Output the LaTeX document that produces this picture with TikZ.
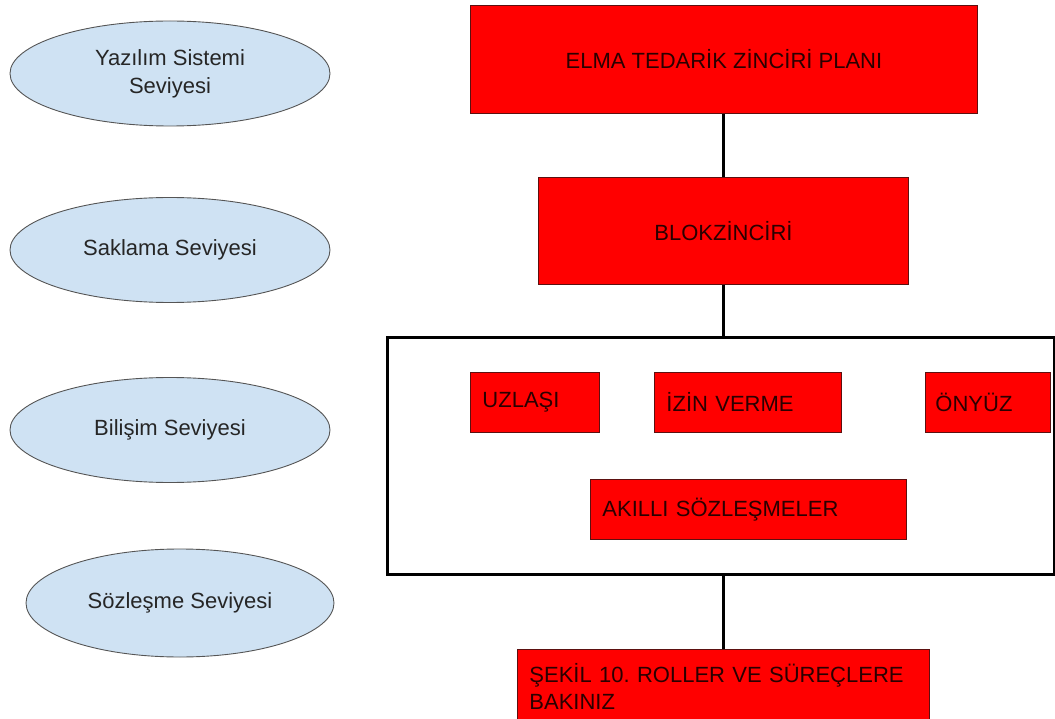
\documentclass[tikz,border=0pt]{standalone}
\usepackage{fontspec}
\setmainfont{Liberation Sans}
\usetikzlibrary{shapes.geometric}
\definecolor{levelfill}{HTML}{CFE2F3}
\definecolor{levelline}{HTML}{555555}
\definecolor{boxred}{HTML}{FF0000}
\definecolor{boxline}{HTML}{5C1010}
\definecolor{boxtext}{HTML}{2A0000}
\frenchspacing
\begin{document}
\begin{tikzpicture}[x=1pt,y=-1pt,
  level/.style={ellipse, draw=levelline, line width=0.9pt, fill=levelfill,
    minimum width=320pt, minimum height=105pt, inner sep=0pt, align=center,
    text=black!85, font=\fontsize{22}{28}\selectfont},
  redbox/.style={rectangle, draw=boxline, line width=0.9pt, fill=boxred,
    text=boxtext, inner sep=0pt, anchor=north west,
    font=\fontsize{22}{27}\selectfont},
  tagbox/.style={redbox, align=left, inner xsep=12pt},
  layerframe/.style={rectangle, draw=black, line width=3pt, inner sep=0pt,
    anchor=north west},
  link/.style={line width=3pt, draw=black}]
\useasboundingbox (0,0) rectangle (1055,719);
\clip (0,0) rectangle (1055,719);

% level labels on the left
\node[level] (lvsoft) at (170,73.5) {Yazılım Sistemi\\Seviyesi};
\node[level] (lvstore) at (170,250) {Saklama Seviyesi};
\node[level] (lvinfo) at (170,430) {Bilişim Seviyesi};
\node[level, minimum width=308pt, minimum height=108pt] (lvcontract) at (180,603) {Sözleşme Seviyesi};

% main stack
\node[redbox, minimum width=507pt, minimum height=108pt] (plan) at (470,5) {ELMA TEDARİK ZİNCİRİ PLANI};
\node[redbox, minimum width=370pt, minimum height=107pt] (chain) at (538,177) {BLOKZİNCİRİ};
\node[layerframe, minimum width=667pt, minimum height=236pt] (layer) at (385.5,336.5) {};

\node[tagbox, minimum height=60pt, text width=105pt] (consensus) at (470,372) {UZLAŞI};
\node[tagbox, minimum height=60pt, text width=163pt] (permit) at (654,372) {İZİN VERME};
\node[tagbox, minimum height=60pt, text width=105pt, inner xsep=10pt] (front) at (925,372) {ÖNYÜZ};
\node[tagbox, minimum height=60pt, text width=292pt] (smart) at (590,479) {AKILLI SÖZLEŞMELER};

\node[tagbox, minimum height=75pt, text width=388pt] (roles) at (517,649) {ŞEKİL 10. ROLLER VE SÜREÇLERE\\BAKINIZ};

% connectors
\draw[link] (plan.south -| chain.north) -- (chain.north);
\draw[link] (chain.south) -- (chain.south |- layer.north);
\draw[link] (roles.north |- layer.south) -- (roles.north);
\end{tikzpicture}
\end{document}
